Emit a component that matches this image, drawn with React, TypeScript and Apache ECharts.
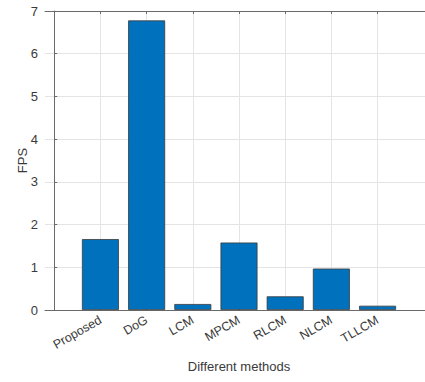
import React, { useEffect, useRef } from "react";
import * as echarts from "echarts";

const categories = ["Proposed", "DoG", "LCM", "MPCM", "RLCM", "NLCM", "TLLCM"];
const fpsValues = [1.66, 6.78, 0.14, 1.58, 0.32, 0.97, 0.1];
const yTicks = [0, 1, 2, 3, 4, 5, 6, 7];
const catPositions = categories.map((_, i) => i + 1);

export default function App() {
  const ref = useRef<HTMLDivElement>(null);
  useEffect(() => {
    document.body.style.margin = "0";
    const chart = echarts.init(ref.current!, null, { renderer: "svg" });
    const font = "Liberation Sans, Arial, sans-serif";
    const textColor = "#3a3a3a";
    const axisLineColor = "#6a6a6a";
    const gridColor = "#e4e4e4";
    const labelOf = (v: number) => {
      const i = Math.round(v) - 1;
      return Math.abs(v - Math.round(v)) < 1e-6 && i >= 0 && i < categories.length ? categories[i] : "";
    };
    chart.setOption({
      animation: false,
      backgroundColor: "#fff",
      grid: { left: 45, right: 0, top: 11, bottom: 72, containLabel: false },
      xAxis: [
        {
          type: "value",
          min: -0.2,
          max: 8.2,
          minInterval: 1,
          maxInterval: 1,
          name: "Different methods",
          nameLocation: "middle",
          nameGap: 50,
          nameMoveOverlap: false,
          nameTextStyle: { fontFamily: font, fontSize: 13, color: textColor },
          axisLine: { show: true, lineStyle: { color: axisLineColor, width: 1 } },
          axisTick: { show: true, inside: true, length: 3, customValues: catPositions, lineStyle: { color: axisLineColor } },
          axisLabel: {
            customValues: catPositions,
            formatter: (v: number) => labelOf(v),
            rotate: 30,
            margin: 9,
            fontFamily: font,
            fontSize: 12.5,
            color: textColor,
          },
          splitLine: { show: true, customValues: catPositions, lineStyle: { color: gridColor, width: 1 } },
        },
        {
          type: "value",
          position: "top",
          min: -0.2,
          max: 8.2,
          minInterval: 1,
          maxInterval: 1,
          axisLine: { show: true, lineStyle: { color: axisLineColor, width: 1 } },
          axisTick: { show: true, inside: true, length: 3, customValues: catPositions, lineStyle: { color: axisLineColor } },
          axisLabel: { show: false },
          splitLine: { show: false },
        },
      ],
      yAxis: {
        type: "value",
        min: 0,
        max: 7,
        interval: 1,
        name: "FPS",
        nameLocation: "middle",
        nameGap: 16,
        nameMoveOverlap: false,
        nameTextStyle: { fontFamily: font, fontSize: 13, color: textColor },
        axisLine: { show: true, lineStyle: { color: axisLineColor, width: 1 } },
        axisTick: { show: true, inside: true, length: 3, lineStyle: { color: axisLineColor } },
        axisLabel: {
          formatter: (v: number) => (yTicks.includes(v) ? String(v) : ""),
          margin: 7,
          fontFamily: font,
          fontSize: 13,
          color: textColor,
        },
        splitLine: { show: true, lineStyle: { color: gridColor, width: 1 } },
      },
      series: [
        {
          type: "bar",
          xAxisIndex: 0,
          data: fpsValues.map((v, i) => [catPositions[i], v]),
          barWidth: 37,
          itemStyle: { color: "#0072BD", borderColor: "#3a3a3a", borderWidth: 0.8 },
        },
      ],
    });
    return () => chart.dispose();
  }, []);
  return (
    <div style={{ width: 425, height: 382, overflow: "hidden", position: "relative" }}>
      <div ref={ref} style={{ width: 433, height: 382, position: "absolute", left: 0, top: 0 }} />
    </div>
  );
}
